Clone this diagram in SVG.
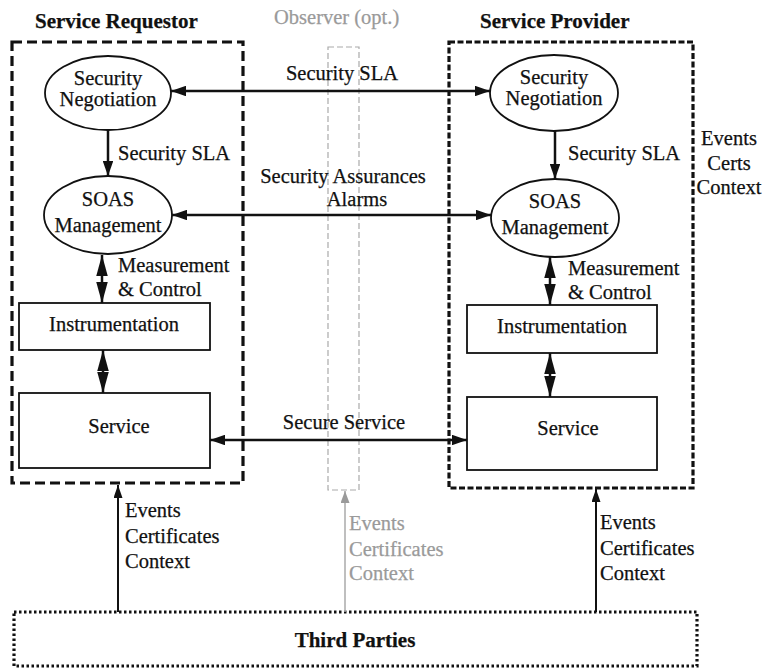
<svg xmlns="http://www.w3.org/2000/svg" width="764" height="671" viewBox="0 0 764 671">
<style>
text{font-family:"Liberation Serif","Times New Roman",serif;font-size:20.5px;fill:#111;stroke:#111;stroke-width:0.25}
.hd{font-weight:bold;font-size:21px}
.gray{fill:#9a9a9a;stroke:#9a9a9a}
.node{fill:#fff;stroke:#111;stroke-width:1.8}
.ln{stroke:#111;stroke-width:2.5;fill:none}
.thin{stroke:#111;stroke-width:2;fill:none}
.mid{text-anchor:middle}
</style>
<defs>
<marker id="ah" viewBox="0 0 10 10" refX="10" refY="5" markerWidth="6" markerHeight="4.2" preserveAspectRatio="none" orient="auto-start-reverse" markerUnits="strokeWidth"><path d="M0,0 L10,5 L0,10 z" fill="#111"/></marker>
<marker id="ahd" viewBox="0 0 10 10" refX="10" refY="5" markerWidth="8.4" markerHeight="4.6" preserveAspectRatio="none" orient="auto-start-reverse" markerUnits="strokeWidth"><path d="M0,0 L10,5 L0,10 z" fill="#111"/></marker>
<marker id="ahs" viewBox="0 0 10 10" refX="10" refY="5" markerWidth="6.5" markerHeight="4.5" preserveAspectRatio="none" orient="auto" markerUnits="strokeWidth"><path d="M0,0 L10,5 L0,10 z" fill="#111"/></marker>
<marker id="ahg" viewBox="0 0 10 10" refX="10" refY="5" markerWidth="8" markerHeight="6" preserveAspectRatio="none" orient="auto" markerUnits="strokeWidth"><path d="M0,0 L10,5 L0,10 z" fill="#9a9a9a"/></marker>
</defs>

<text class="hd" x="35" y="28">Service Requestor</text>
<text class="gray" x="274" y="24">Observer (opt.)</text>
<text class="hd" x="480" y="28">Service Provider</text>

<g id="requestor">
<rect x="12" y="42" width="231" height="441" fill="none" stroke="#111" stroke-width="3.2" stroke-dasharray="10,5"/>
</g>
<g id="provider">
<rect x="449" y="42" width="244" height="446" fill="none" stroke="#111" stroke-width="3.2" stroke-dasharray="6,2.5"/>
</g>
<g id="observer">
<rect x="328" y="47" width="31" height="443" fill="none" stroke="#aaa" stroke-width="1.2" stroke-dasharray="6,3"/>
</g>

<g id="req-negotiation">
<ellipse class="node" cx="108" cy="93" rx="63" ry="37"/>
<text class="mid" x="108" y="85">Security</text>
<text class="mid" x="108" y="106">Negotiation</text>
</g>
<g id="req-soas">
<ellipse class="node" cx="108" cy="215" rx="64" ry="39"/>
<text class="mid" x="108" y="206">SOAS</text>
<text class="mid" x="108" y="232">Management</text>
</g>
<g id="req-instr">
<rect class="node" x="19" y="303" width="191" height="47"/>
<text class="mid" x="114" y="331">Instrumentation</text>
</g>
<g id="req-service">
<rect class="node" x="19" y="393" width="191" height="75"/>
<text class="mid" x="119" y="433">Service</text>
</g>

<g id="prov-negotiation">
<ellipse class="node" cx="554" cy="93" rx="64" ry="38"/>
<text class="mid" x="554" y="84">Security</text>
<text class="mid" x="554" y="105">Negotiation</text>
</g>
<g id="prov-soas">
<ellipse class="node" cx="555" cy="218" rx="64" ry="39"/>
<text class="mid" x="555" y="208">SOAS</text>
<text class="mid" x="555" y="234">Management</text>
</g>
<g id="prov-instr">
<rect class="node" x="467" y="305" width="190" height="48"/>
<text class="mid" x="562" y="333">Instrumentation</text>
</g>
<g id="prov-service">
<rect class="node" x="467" y="397" width="190" height="73"/>
<text class="mid" x="568" y="435">Service</text>
</g>

<g id="third-parties">
<rect x="14" y="612" width="683" height="54" fill="none" stroke="#111" stroke-width="3.2" stroke-dasharray="2.5,2.5"/>
<text class="hd mid" x="355" y="647">Third Parties</text>
</g>

<g id="connectors">
<line class="ln" x1="171" y1="91" x2="490" y2="91" marker-start="url(#ah)" marker-end="url(#ah)"/>
<line class="ln" x1="172" y1="215" x2="491" y2="215" marker-start="url(#ah)" marker-end="url(#ah)"/>
<line class="ln" x1="210" y1="440" x2="467" y2="440" marker-start="url(#ah)" marker-end="url(#ah)"/>
<line class="ln" x1="108" y1="130" x2="108" y2="176" marker-end="url(#ah)"/>
<line class="ln" x1="555" y1="131" x2="555" y2="179" marker-end="url(#ah)"/>
<line class="ln" x1="102" y1="255" x2="102" y2="303" marker-start="url(#ahd)" marker-end="url(#ahd)"/>
<line class="ln" x1="103" y1="350" x2="103" y2="393" marker-start="url(#ahd)" marker-end="url(#ahd)"/>
<line class="ln" x1="550" y1="257" x2="550" y2="305" marker-start="url(#ahd)" marker-end="url(#ahd)"/>
<line class="ln" x1="550" y1="353" x2="550" y2="397" marker-start="url(#ahd)" marker-end="url(#ahd)"/>
<line class="thin" x1="118" y1="612" x2="118" y2="485" marker-end="url(#ahs)"/>
<line class="thin" x1="596" y1="612" x2="596" y2="489" marker-end="url(#ahs)"/>
<line x1="345" y1="612" x2="345" y2="491" stroke="#aaa" stroke-width="1.5" marker-end="url(#ahg)"/>
</g>

<g id="labels">
<text class="mid" x="342" y="80">Security SLA</text>
<text x="118" y="160">Security SLA</text>
<text x="568" y="160">Security SLA</text>
<text class="mid" x="343" y="183">Security Assurances</text>
<text class="mid" x="357" y="206">Alarms</text>
<text x="118" y="272">Measurement</text>
<text x="118" y="296">&amp; Control</text>
<text x="568" y="275">Measurement</text>
<text x="568" y="299">&amp; Control</text>
<text class="mid" x="344" y="429">Secure Service</text>
<text class="mid" x="729" y="145">Events</text>
<text class="mid" x="729" y="170">Certs</text>
<text class="mid" x="729" y="194">Context</text>
<text x="125" y="517">Events</text>
<text x="125" y="543">Certificates</text>
<text x="125" y="568">Context</text>
<text class="gray" x="349" y="530">Events</text>
<text class="gray" x="349" y="556">Certificates</text>
<text class="gray" x="349" y="580">Context</text>
<text x="600" y="529">Events</text>
<text x="600" y="555">Certificates</text>
<text x="600" y="580">Context</text>
</g>
</svg>
